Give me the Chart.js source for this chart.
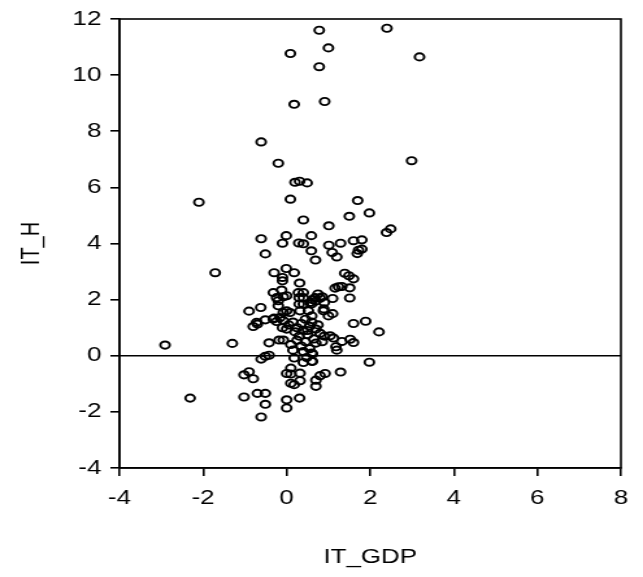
<!DOCTYPE html>
<html>
<head>
<meta charset="utf-8">
<script src="https://cdn.jsdelivr.net/npm/chart.js@4.4.1/dist/chart.umd.min.js"></script>
<style>
  html, body { margin: 0; padding: 0; background: #fff; overflow: hidden; }
  #wrap { width: 495px; height: 577px; transform: scaleX(1.299); transform-origin: 0 0; }
</style>
</head>
<body>
<div id="wrap"><canvas id="scatter" width="495" height="577"></canvas></div>
<script>
// IT_GDP (x) vs IT_H (y)
const itGdp = [
  0.78, 2.40, 0.09, 1.00, 3.18, 0.78, 0.18, 0.91, -0.61, -0.20, 2.99, 0.20, 0.31, 0.49, -2.10, 0.09, 1.70,
  0.40, 1.50, 1.98, 1.01, 2.39, 2.49, -0.61, -0.01, -0.10, 0.29, 0.40, 0.59, 1.01, 1.29, 1.60, 1.80,
  -0.51, 0.59, 0.69, 1.09, 1.20, 1.69, 1.72, 1.80,
  -1.71, -0.30, -0.01, 0.18, -0.10, -0.10, 0.31, 1.39, 1.49, 1.60, 1.16, 1.24, 1.32, 1.51, 1.51, 1.10,
  -0.32, -0.12, -0.24, -0.08, 0.00, 0.28, 0.40, 0.30, 0.40, 0.30, 0.40, 0.68, 0.75, -0.20, -0.20,
  0.56, 0.62, 0.70, 0.80, 0.85, 0.60, 0.90,
  -0.90, -0.62, -0.08, 0.00, 0.08, 0.32, 0.52, 0.60, 0.88, 1.00, 1.10, 0.89,
  -0.30, -0.80, -0.70, -0.51, -0.16, -0.08, -0.24, -0.32, -0.72,
  1.60, 1.89, 2.21,
  0.05, 0.15, 0.25, 0.35, 0.45, 0.55, 0.60, 0.70, 0.75, 0.80, 0.40, 0.20, 0.00, -0.10, 0.30,
  0.50, 0.65, 0.45, 0.35, 0.25, 0.10, 0.55, 0.70, 0.85, 0.60, 0.40, 0.15, 0.50, 0.90,
  -2.91, -1.30, -0.42, -0.18, -0.08,
  1.04, 1.12, 1.18, 1.20, 1.32, 1.52, 1.60, 0.62, 0.62,
  -0.61, -0.51, -0.42, 0.18, 0.40, 0.60, 0.48, 1.98,
  -1.02, -0.90, -0.80, 0.00, 0.10, 0.10, 0.32, 0.10, 0.18, 0.32, 0.70, 0.80, 0.92, 0.70, 1.29,
  -2.31, -1.02, -0.70, -0.51, -0.51, 0.00, 0.00, 0.31, -0.61
];
const itH = [
  11.60, 11.67, 10.77, 10.97, 10.65, 10.30, 8.96, 9.06, 7.62, 6.86, 6.95, 6.18, 6.22, 6.16, 5.47, 5.58, 5.53,
  4.84, 4.97, 5.09, 4.63, 4.39, 4.52, 4.17, 4.28, 4.01, 4.02, 3.99, 4.28, 3.94, 4.01, 4.10, 4.13,
  3.63, 3.74, 3.41, 3.68, 3.52, 3.64, 3.76, 3.80,
  2.96, 2.96, 3.11, 2.96, 2.79, 2.67, 2.59, 2.94, 2.85, 2.74, 2.41, 2.46, 2.47, 2.42, 2.06, 2.04,
  2.25, 2.34, 2.07, 2.10, 2.14, 2.25, 2.25, 2.07, 2.07, 1.84, 1.84, 2.07, 2.20, 1.96, 1.78,
  1.90, 2.00, 1.95, 2.05, 2.10, 1.85, 1.90,
  1.59, 1.72, 1.54, 1.60, 1.54, 1.60, 1.60, 1.42, 1.60, 1.42, 1.50, 1.67,
  1.34, 1.04, 1.13, 1.28, 1.36, 1.25, 1.22, 1.31, 1.19,
  1.15, 1.23, 0.85,
  1.10, 1.20, 1.00, 1.15, 1.30, 1.05, 1.20, 0.95, 1.10, 0.80, 0.90, 0.85, 0.95, 1.00, 0.70,
  0.75, 0.60, 0.50, 0.35, 0.55, 0.40, 0.25, 0.45, 0.50, 0.10, 0.15, 0.20, 0.90, 0.70,
  0.38, 0.44, 0.46, 0.56, 0.56,
  0.71, 0.63, 0.32, 0.20, 0.51, 0.59, 0.47, 0.06, -0.20,
  -0.12, -0.02, 0.02, -0.08, -0.24, -0.20, -0.06, -0.23,
  -0.68, -0.57, -0.82, -0.63, -0.44, -0.65, -0.62, -0.98, -1.03, -0.89, -0.87, -0.71, -0.63, -1.09, -0.58,
  -1.51, -1.47, -1.34, -1.34, -1.73, -1.57, -1.86, -1.51, -2.18
];
const xTicks = [-4, -2, 0, 2, 4, 6, 8];
const yTicks = [-4, -2, 0, 2, 4, 6, 8, 10, 12];

const points = itGdp.map((x, i) => ({ x: x, y: itH[i] }));
const tickFont = { family: 'Arial, "Liberation Sans", sans-serif', size: 20 };

// frame round the plot and the zero line
const framePlugin = {
    id: 'frame',
    beforeDatasetsDraw(chart) {
        const { ctx, chartArea: a, scales } = chart;
        ctx.save();
        ctx.strokeStyle = '#000';
        ctx.lineWidth = 1.6;
        ctx.strokeRect(a.left, a.top, a.right - a.left, a.bottom - a.top);
        const y0 = scales.y.getPixelForValue(0);
        ctx.lineWidth = 1.5;
        ctx.beginPath();
        ctx.moveTo(a.left, y0);
        ctx.lineTo(a.right, y0);
        ctx.stroke();
        ctx.restore();
    }
};

new Chart(document.getElementById('scatter').getContext('2d'), {
    type: 'scatter',
    data: {
        datasets: [{
            label: 'IT_H',
            data: points,
            pointStyle: 'circle',
            pointRadius: 3.6,
            pointHoverRadius: 3.6,
            pointBorderWidth: 1.9,
            borderColor: '#000',
            backgroundColor: 'rgba(0,0,0,0)'
        }]
    },
    options: {
        responsive: false,
        animation: false,
        events: [],
        layout: { padding: { left: 0, top: 18, right: 17, bottom: 0 } },
        plugins: { legend: { display: false }, tooltip: { enabled: false } },
        scales: {
            x: {
                type: 'linear',
                min: -4, max: 8,
                afterBuildTicks: (s) => { s.ticks = xTicks.map(v => ({ value: v })); },
                afterFit: (s) => { s.height = 109; },
                grid: { drawOnChartArea: false, drawTicks: true, tickLength: 8, color: '#000', lineWidth: 1.6 },
                border: { display: true, color: '#000', width: 1.6 },
                ticks: { color: '#000', font: tickFont, padding: 10, maxRotation: 0 },
                title: { display: true, text: 'IT_GDP', color: '#000', font: tickFont, padding: { top: 0, bottom: 8 } }
            },
            y: {
                type: 'linear',
                min: -4, max: 12,
                afterBuildTicks: (s) => { s.ticks = yTicks.map(v => ({ value: v })); },
                afterFit: (s) => { s.width = 92; },
                grid: { drawOnChartArea: false, drawTicks: true, tickLength: 7, color: '#000', lineWidth: 1.6 },
                border: { display: true, color: '#000', width: 1.6 },
                ticks: { color: '#000', font: tickFont, padding: 7 },
                title: { display: true, text: 'IT_H', color: '#000', font: tickFont, padding: { top: 12, bottom: 0 } }
            }
        }
    },
    plugins: [framePlugin]
});
</script>
</body>
</html>
